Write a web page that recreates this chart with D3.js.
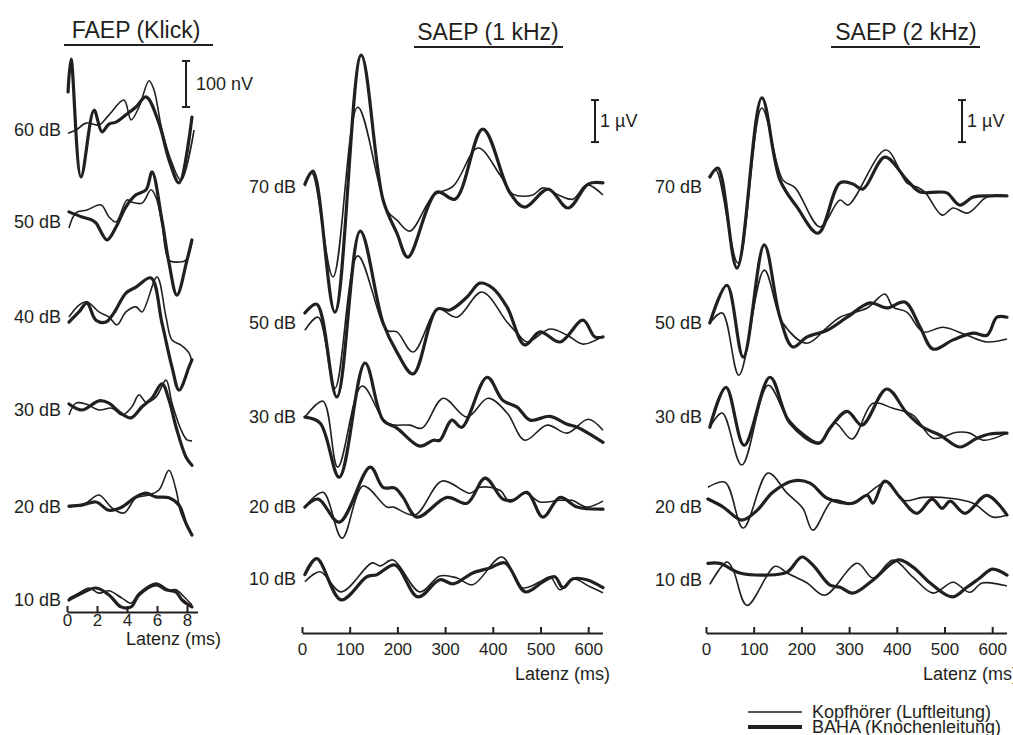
<!DOCTYPE html>
<html><head><meta charset="utf-8">
<script src="https://cdn.jsdelivr.net/npm/d3@7"></script>
<style>
body{margin:0;background:#fff}
svg{display:block}
text{font-family:"Liberation Sans",Arial,Helvetica,sans-serif;fill:#231f20}
</style>
</head><body>
<svg id="chart" width="1013" height="735"></svg>
<script>
// ---------------- DATA ----------------
// time (ms), amplitude (FAEP: nV, SAEP: µV) relative to each level's baseline
const faepLevels = ["60 dB","50 dB","40 dB","30 dB","20 dB","10 dB"];
const faepTicks = [0,2,4,6,8];
const faepThin = [
  [[0.07,-7],[0.6,0],[1.27,15],[2.13,11],[2.8,33],[3.8,65],[4.27,22],[4.8,50],[5.47,107],[5.8,87],[6.33,0],[7.0,-72],[7.6,-109],[8.47,0]],
  [[0.13,-13],[0.6,20],[1.33,26],[2.27,37],[2.8,11],[3.27,0],[4.0,48],[4.33,43],[5.0,41],[5.6,70],[5.93,54],[6.33,-2],[6.8,-83],[7.47,-87],[7.93,-83],[8.33,-43]],
  [[0.13,0],[0.8,26],[1.33,33],[2.13,11],[2.8,0],[3.33,-17],[3.93,11],[4.6,22],[5.0,11],[6.0,87],[6.6,0],[7.0,-50],[7.6,-61],[8.13,-78],[8.33,-98]],
  [[0.13,-11],[0.6,15],[1.27,13],[2.13,0],[3.0,4],[3.67,-11],[4.33,7],[4.8,33],[5.27,17],[5.93,28],[6.6,65],[7.0,15],[7.6,-43],[8.0,-65],[8.33,-67]],
  [[0.13,0],[1.27,9],[2.13,26],[3.0,-2],[3.8,-13],[4.6,20],[5.47,26],[6.13,37],[6.8,80],[7.27,37],[7.6,-13],[8.33,-61]],
  [[0.13,4],[0.8,15],[1.47,26],[2.13,15],[2.8,20],[3.67,4],[4.27,-7],[4.8,15],[5.93,37],[6.8,22],[7.27,22],[7.8,7],[8.33,-11]]
];
const faepThick = [
  [[0.07,83],[0.27,154],[0.93,-102],[1.8,43],[2.33,-4],[2.8,13],[3.27,17],[3.93,33],[4.6,50],[5.27,72],[6.13,15],[6.8,-65],[7.47,-115],[8.33,28]],
  [[0.13,22],[1.0,11],[1.67,4],[1.93,-2],[2.67,-39],[3.27,-11],[3.93,33],[4.6,59],[5.27,70],[5.67,109],[6.33,4],[6.8,-89],[7.33,-159],[8.0,-83],[8.33,-39]],
  [[0.13,-11],[0.8,11],[1.33,30],[1.93,-7],[2.6,-11],[3.13,9],[3.93,52],[4.6,65],[5.6,85],[6.33,-13],[7.0,-109],[7.47,-159],[8.13,-109],[8.33,-93]],
  [[0.13,13],[1.0,0],[2.13,20],[2.8,15],[3.47,-4],[4.27,-17],[5.0,7],[5.67,26],[6.33,57],[6.8,22],[7.27,-37],[7.93,-102],[8.33,-120]],
  [[0.13,2],[1.0,4],[1.93,11],[2.8,-7],[3.67,0],[4.6,22],[5.27,30],[5.93,22],[6.8,20],[7.47,4],[7.93,-35],[8.33,-61]],
  [[0.13,0],[1.0,15],[1.93,26],[2.8,11],[3.6,-15],[4.27,-15],[4.8,11],[5.93,33],[6.6,22],[7.27,17],[7.67,0],[8.33,-15]]
];

const saepTicks = [0,100,200,300,400,500,600];

const saep1Levels = ["70 dB","50 dB","30 dB","20 dB","10 dB"];
const saep1Thin = [
  [[6,0.02],[21,0.33],[65,-2.14],[117,1.9],[178,-0.55],[199,-0.79],[226,-1.05],[275,-0.21],[317,0.02],[369,0.93],[415,0.29],[442,-0.17],[484,-0.19],[505,-0.02],[541,-0.21],[568,-0.29],[597,0.05],[631,-0.19]],
  [[6,-0.17],[34,0.14],[69,-1.55],[117,1.6],[178,-0.17],[199,-0.21],[233,-0.69],[285,0.33],[325,0.14],[377,0.74],[430,0.02],[451,-0.24],[472,-0.45],[520,-0.14],[556,-0.29],[589,-0.5],[631,-0.31]],
  [[6,0],[44,0.38],[75,-1.19],[126,0.74],[178,-0.14],[226,-0.19],[252,-0.26],[296,0.45],[346,0],[390,0.45],[430,0.1],[467,-0.55],[514,-0.19],[556,-0.38],[600,-0.05],[631,-0.31]],
  [[6,-0.02],[44,0.33],[84,-0.76],[128,0.48],[178,-0.02],[191,-0.02],[237,-0.21],[294,0.6],[352,0.31],[373,0.45],[415,0.38],[436,0.1],[468,0.31],[499,0.1],[541,0.14],[566,0.14],[597,-0.02],[631,0.12]],
  [[6,-0.07],[38,0.17],[82,-0.31],[147,0.38],[164,0.31],[191,0.45],[247,-0.31],[289,0.07],[325,0.02],[358,-0.14],[419,0.52],[461,-0.21],[499,-0.07],[520,0.05],[541,-0.26],[568,0],[604,-0.19],[631,-0.33]]
];
const saep1Thick = [
  [[6,0.07],[23,0.38],[69,-2.98],[124,3.14],[170,-0.31],[199,-1.1],[222,-1.67],[283,-0.12],[321,-0.29],[379,1.38],[436,-0.14],[467,-0.48],[516,-0.05],[558,-0.5],[600,0.07],[631,0.1]],
  [[6,0.24],[31,0.45],[73,-1.76],[122,2.19],[170,0],[199,-0.69],[233,-1.21],[283,0.33],[310,0.31],[346,0.62],[373,0.95],[400,0.83],[430,0.38],[467,-0.52],[499,-0.21],[541,-0.45],[589,0.07],[614,-0.33],[631,-0.33]],
  [[6,0],[38,-0.14],[78,-1.43],[132,1.29],[170,-0.07],[199,-0.26],[247,-0.69],[275,-0.55],[289,-0.55],[314,-0.07],[335,-0.24],[388,0.95],[421,0.4],[451,0.24],[478,-0.07],[520,0.02],[556,-0.17],[577,-0.24],[631,-0.6]],
  [[6,-0.02],[34,0.17],[78,-0.38],[143,0.93],[170,0.45],[195,0.43],[212,0.21],[241,-0.26],[304,0.21],[346,0.07],[384,0.67],[421,0.17],[442,0.14],[472,0.33],[505,-0.26],[541,0.21],[577,-0.02],[631,-0.07]],
  [[6,0.1],[31,0.48],[82,-0.5],[136,0.05],[157,0.1],[195,0.33],[243,-0.43],[289,-0.02],[317,-0.12],[358,0.14],[394,0.26],[426,0.38],[468,-0.31],[505,-0.07],[530,0.05],[547,-0.21],[568,0],[597,-0.02],[631,-0.21]]
];

const saep2Levels = ["70 dB","50 dB","30 dB","20 dB","10 dB"];
const saep2Thin = [
  [[8,0.21],[21,0.4],[67,-1.81],[117,1.88],[161,0.17],[187,-0.02],[239,-0.95],[281,-0.31],[298,-0.43],[377,0.88],[421,0.1],[442,0],[459,-0.12],[495,-0.67],[518,-0.5],[549,-0.62],[589,-0.24],[631,-0.21]],
  [[8,0],[34,0.24],[69,-1.24],[122,1.26],[161,0],[212,-0.48],[254,-0.1],[281,0.14],[338,0.36],[375,0.69],[392,0.38],[421,0.26],[455,-0.21],[497,-0.1],[547,-0.29],[589,-0.45],[631,-0.38]],
  [[8,-0.24],[34,0.1],[75,-1.14],[130,0.76],[170,0],[203,-0.38],[239,-0.6],[270,-0.14],[306,-0.52],[350,0.33],[392,0.21],[434,0.05],[476,-0.5],[526,-0.36],[553,-0.38],[581,-0.55],[631,-0.38]],
  [[4,0.45],[40,0.57],[78,-0.52],[130,0.79],[170,0.31],[203,-0.05],[224,-0.57],[266,0.14],[302,0.07],[329,0.21],[379,0.57],[413,0.14],[455,0.21],[512,0.19],[560,0.07],[602,-0.26],[631,-0.21]],
  [[8,-0.1],[44,0.43],[57,0.24],[86,-0.6],[145,0.33],[170,0.17],[212,-0.07],[249,-0.36],[317,0.4],[350,0.05],[392,0.48],[434,0.07],[476,-0.31],[518,-0.05],[553,-0.29],[579,-0.07],[631,-0.14]]
];
const saep2Thick = [
  [[8,0.24],[25,0.45],[65,-1.93],[117,2.12],[155,0.17],[191,-0.48],[235,-1.1],[281,0.1],[308,0.07],[329,-0.05],[375,0.71],[421,0.17],[449,-0.12],[484,-0.12],[505,-0.14],[532,-0.43],[560,-0.24],[595,-0.21],[631,-0.21]],
  [[8,0],[44,0.9],[78,-0.81],[122,1.86],[155,0.14],[182,-0.57],[212,-0.33],[254,-0.17],[296,0.14],[344,0.48],[379,0.36],[417,0.5],[449,-0.1],[476,-0.62],[518,-0.4],[560,-0.24],[589,-0.29],[610,0.14],[631,0.14]],
  [[8,-0.24],[42,0.71],[80,-0.67],[134,0.95],[176,-0.14],[237,-0.62],[260,-0.26],[296,0.14],[327,-0.19],[379,0.67],[421,0.1],[455,-0.24],[491,-0.43],[532,-0.71],[568,-0.5],[595,-0.4],[631,-0.38]],
  [[4,0.17],[36,-0.02],[75,-0.33],[107,-0.1],[140,0.33],[182,0.6],[218,0.55],[254,0.19],[308,0.07],[338,0.26],[350,0.07],[375,0.6],[407,0.21],[442,-0.17],[474,0.17],[495,-0.05],[512,0.12],[543,-0.17],[589,0.26],[631,-0.21]],
  [[4,0.4],[29,0.4],[71,0.17],[128,0.12],[170,0.19],[201,0.55],[224,0.36],[260,-0.12],[281,-0.17],[308,-0.31],[350,0],[403,0.48],[434,0.31],[470,-0.07],[516,-0.4],[547,-0.17],[574,0.05],[600,0.26],[631,0.12]]
];

// ---------------- LAYOUT ----------------
const INK = "#231f20";
const svg = d3.select("#chart");

const panels = [
  {title:"FAEP (Klick)", titleX:136, ulX:[64,213], ulY:45,
   levels:faepLevels, thin:faepThin, thick:faepThick,
   offsets:[0,-200,-406.5,-608.7,-819.6,-1021.7],
   x:d3.scaleLinear().domain([0,8.7]).range([67,197.5]), ticks:faepTicks,
   y:d3.scaleLinear().domain([0,100]).range([130,84]),
   axisY:612, pad:2, labelEnd:61, latenzEnd:221, latenzY:645,
   bar:{x:186, v:[50,150], text:"100 nV", tx:196}},
  {title:"SAEP (1 kHz)", titleX:488, ulX:[414,563], ulY:47,
   levels:saep1Levels, thin:saep1Thin, thick:saep1Thick,
   offsets:[0,-3.24,-5.48,-7.6,-9.33],
   x:d3.scaleLinear().domain([0,630]).range([302,602.5]), ticks:saepTicks,
   y:d3.scaleLinear().domain([0,1]).range([187,145]),
   axisY:633, pad:10, labelEnd:296, latenzEnd:610, latenzY:680,
   bar:{x:595, v:[1.07,2.07], text:"1 µV", tx:600}},
  {title:"SAEP (2 kHz)", titleX:906, ulX:[831,980], ulY:47,
   levels:saep2Levels, thin:saep2Thin, thick:saep2Thick,
   offsets:[0,-3.24,-5.48,-7.6,-9.36],
   x:d3.scaleLinear().domain([0,630]).range([706,1006.5]), ticks:saepTicks,
   y:d3.scaleLinear().domain([0,1]).range([187,145]),
   axisY:633, pad:10, labelEnd:702, latenzEnd:1018, latenzY:680,
   bar:{x:962, v:[1.07,2.07], text:"1 µV", tx:967}}
];

panels.forEach(p => {
  const g = svg.append("g");
  // title + underline
  g.append("text").attr("x",p.titleX).attr("y",p.ulY-7).attr("text-anchor","middle")
    .attr("font-size",23).text(p.title);
  g.append("line").attr("x1",p.ulX[0]).attr("x2",p.ulX[1]).attr("y1",p.ulY).attr("y2",p.ulY)
    .attr("stroke",INK).attr("stroke-width",2);

  p.levels.forEach((lv,i) => {
    const off = p.offsets[i];
    const line = d3.line()
      .x(d => p.x(d[0]))
      .y(d => p.y(off + d[1]))
      .curve(d3.curveCatmullRom.alpha(0.5));
    g.append("path").attr("d",line(p.thin[i])).attr("fill","none")
      .attr("stroke",INK).attr("stroke-width",1.6).attr("stroke-linejoin","round");
    g.append("path").attr("d",line(p.thick[i])).attr("fill","none")
      .attr("stroke",INK).attr("stroke-width",3.2).attr("stroke-linejoin","round").attr("stroke-linecap","round");
    g.append("text").attr("x",p.labelEnd).attr("y",p.y(off)).attr("dy","0.35em")
      .attr("text-anchor","end").attr("font-size",18).text(lv);
  });

  // axis
  const ax = d3.axisBottom(p.x).tickValues(p.ticks).tickSize(-6).tickSizeOuter(0).tickPadding(p.pad);
  const ag = g.append("g").attr("transform",`translate(0,${p.axisY})`).call(ax);
  ag.attr("font-family",null).attr("font-size",null);
  ag.select(".domain").attr("stroke",INK).attr("stroke-width",2);
  ag.selectAll(".tick line").attr("stroke",INK).attr("stroke-width",2);
  ag.selectAll(".tick text").attr("font-size",17).attr("fill",INK);
  g.append("text").attr("x",p.latenzEnd).attr("y",p.latenzY).attr("text-anchor","end")
    .attr("font-size",18).text("Latenz (ms)");

  // scale bar
  const b = p.bar, y0 = p.y(b.v[0]), y1 = p.y(b.v[1]);
  const bg = g.append("g").attr("stroke",INK).attr("stroke-width",2);
  bg.append("line").attr("x1",b.x).attr("x2",b.x).attr("y1",y0).attr("y2",y1);
  bg.append("line").attr("x1",b.x-4).attr("x2",b.x+4).attr("y1",y0).attr("y2",y0);
  bg.append("line").attr("x1",b.x-4).attr("x2",b.x+4).attr("y1",y1).attr("y2",y1);
  g.append("text").attr("x",b.tx).attr("y",(y0+y1)/2).attr("dy","0.35em")
    .attr("font-size",18).text(b.text);
});

// legend
const legendItems = ["Kopfhörer (Luftleitung)","BAHA (Knochenleitung)"];
const legendWidths = [1.6,4];
legendItems.forEach((t,i) => {
  const y = 712 + i*15;
  svg.append("line").attr("x1",748).attr("x2",802).attr("y1",y).attr("y2",y)
    .attr("stroke",INK).attr("stroke-width",legendWidths[i]);
  svg.append("text").attr("x",812).attr("y",y).attr("dy","0.35em")
    .attr("font-size",18).text(t);
});
</script>
</body></html>
